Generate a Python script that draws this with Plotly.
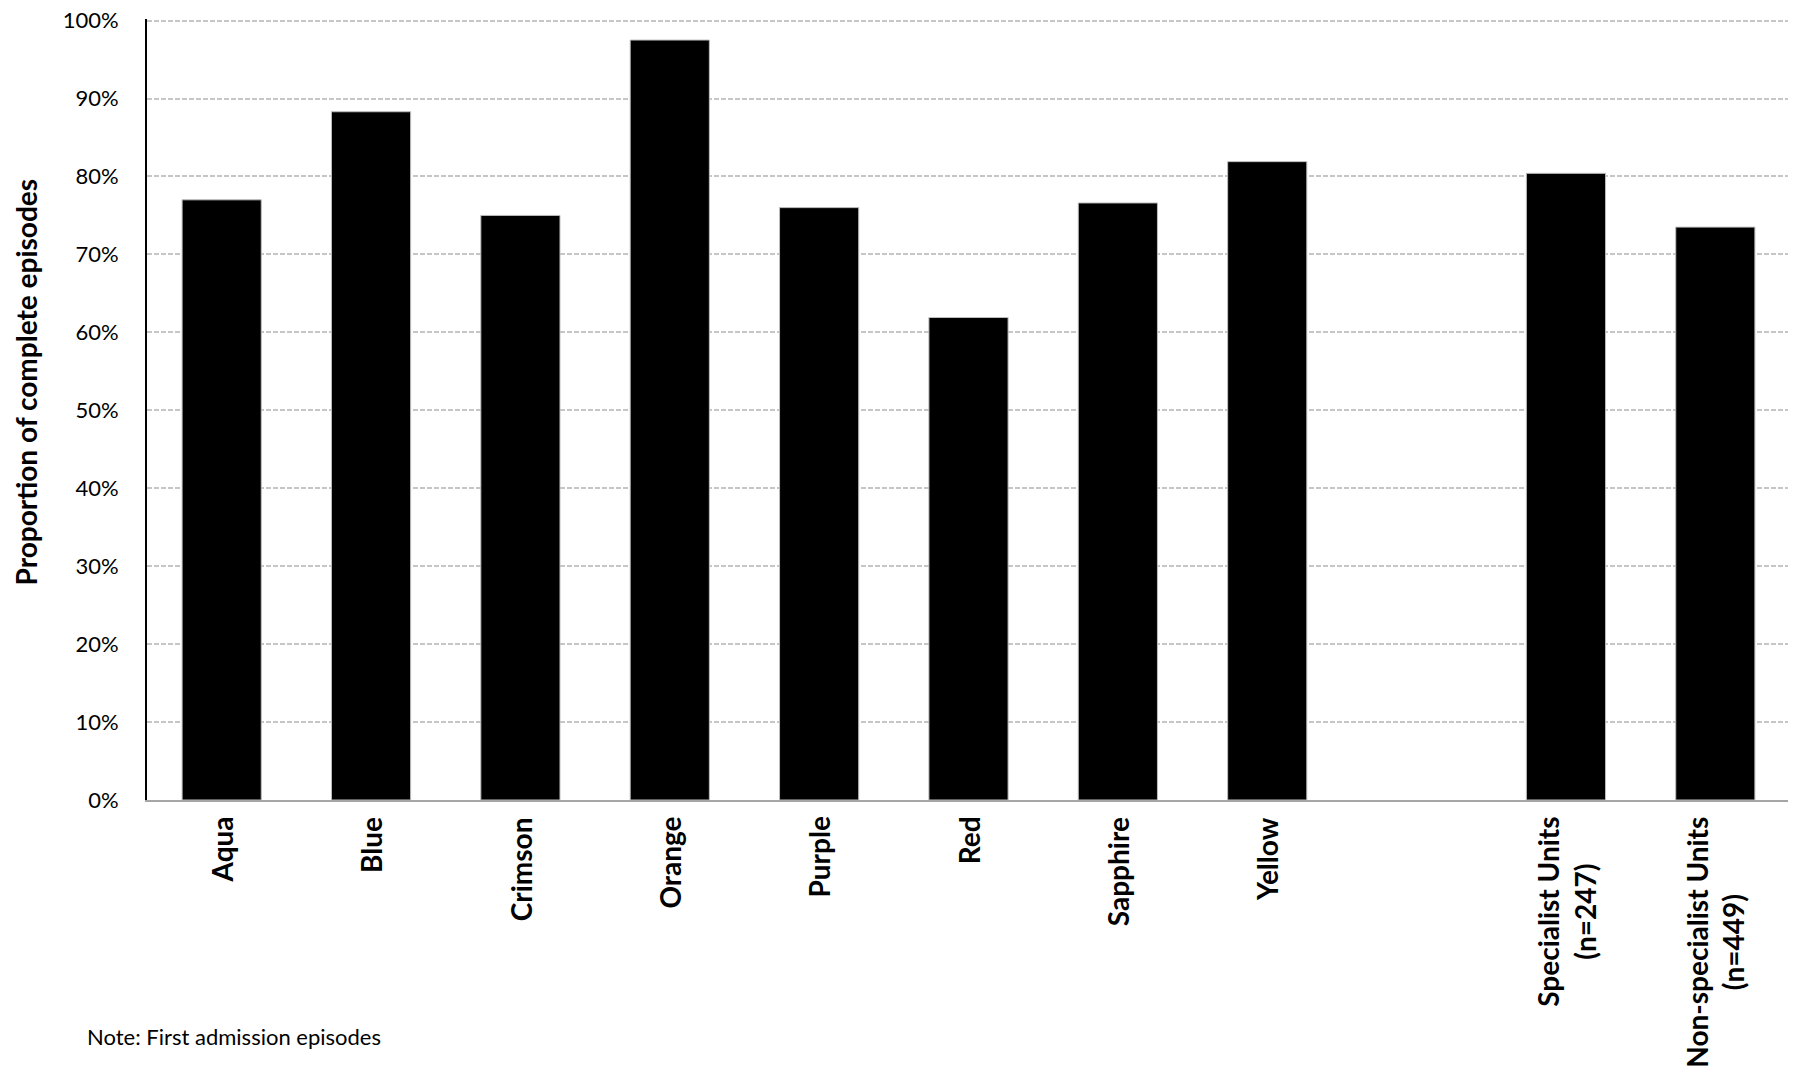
import plotly.graph_objects as go

categories = ["Aqua", "Blue", "Crimson", "Orange", "Purple", "Red", "Sapphire", "Yellow",
              " ", "Specialist Units", "Non-specialist Units"]
label_text = ["Aqua", "Blue", "Crimson", "Orange", "Purple", "Red", "Sapphire", "Yellow",
              "", "Specialist Units<br>(n=247)", "Non-specialist Units<br>(n=449)"]
values = [0.770, 0.883, 0.750, 0.975, 0.760, 0.619, 0.766, 0.819, None, 0.804, 0.735]
y_ticks = [i / 10 for i in range(11)]
y_tick_text = [f"{i * 10}%" for i in range(11)]

FONT = "Lato"

fig = go.Figure()
fig.add_trace(go.Bar(
    x=categories, y=values,
    marker=dict(color="#000000", line=dict(color="#bdbdbd", width=1)),
    hoverinfo="x+y",
))

for cat, txt in zip(categories, label_text):
    if not txt:
        continue
    fig.add_annotation(
        x=cat, xref="x", y=-0.019, yref="paper",
        text=f"<b>{txt}</b>", textangle=-90, showarrow=False,
        xanchor="center", yanchor="top", align="center",
        font=dict(family=FONT, size=28, color="#000000"),
    )

fig.add_annotation(
    x=-0.0735, xref="paper", y=0.535, yref="paper",
    text="<b>Proportion of complete episodes</b>", textangle=-90, showarrow=False,
    xanchor="center", yanchor="middle",
    font=dict(family=FONT, size=28, color="#000000"),
)

fig.add_annotation(
    x=-0.0375, xref="paper", y=-0.303, yref="paper",
    text="Note: First admission episodes", showarrow=False,
    xanchor="left", yanchor="middle",
    font=dict(family=FONT, size=22, color="#000000"),
)

fig.update_layout(
    width=1796, height=1069,
    margin=dict(l=139, r=14, t=11, b=277, autoexpand=False),
    paper_bgcolor="white", plot_bgcolor="white",
    bargap=0.47, showlegend=False,
    font=dict(family=FONT, color="#000000"),
)
fig.update_xaxes(
    type="category", categoryorder="array", categoryarray=categories,
    showticklabels=False, ticks="",
    showline=True, linecolor="#a6a6a6", linewidth=2,
    showgrid=False, zeroline=False,
)
fig.update_yaxes(
    range=[0, 1.002], tickvals=y_ticks, ticktext=y_tick_text,
    tickfont=dict(family=FONT, size=22, color="#000000"),
    ticks="", ticklabelstandoff=22, ticklabeloverflow="allow",
    showline=True, linecolor="#000000", linewidth=2,
    showgrid=True, gridcolor="#c6c6c6", gridwidth=2, griddash="5px,2px",
    zeroline=False,
)

fig.write_html("out.html")
